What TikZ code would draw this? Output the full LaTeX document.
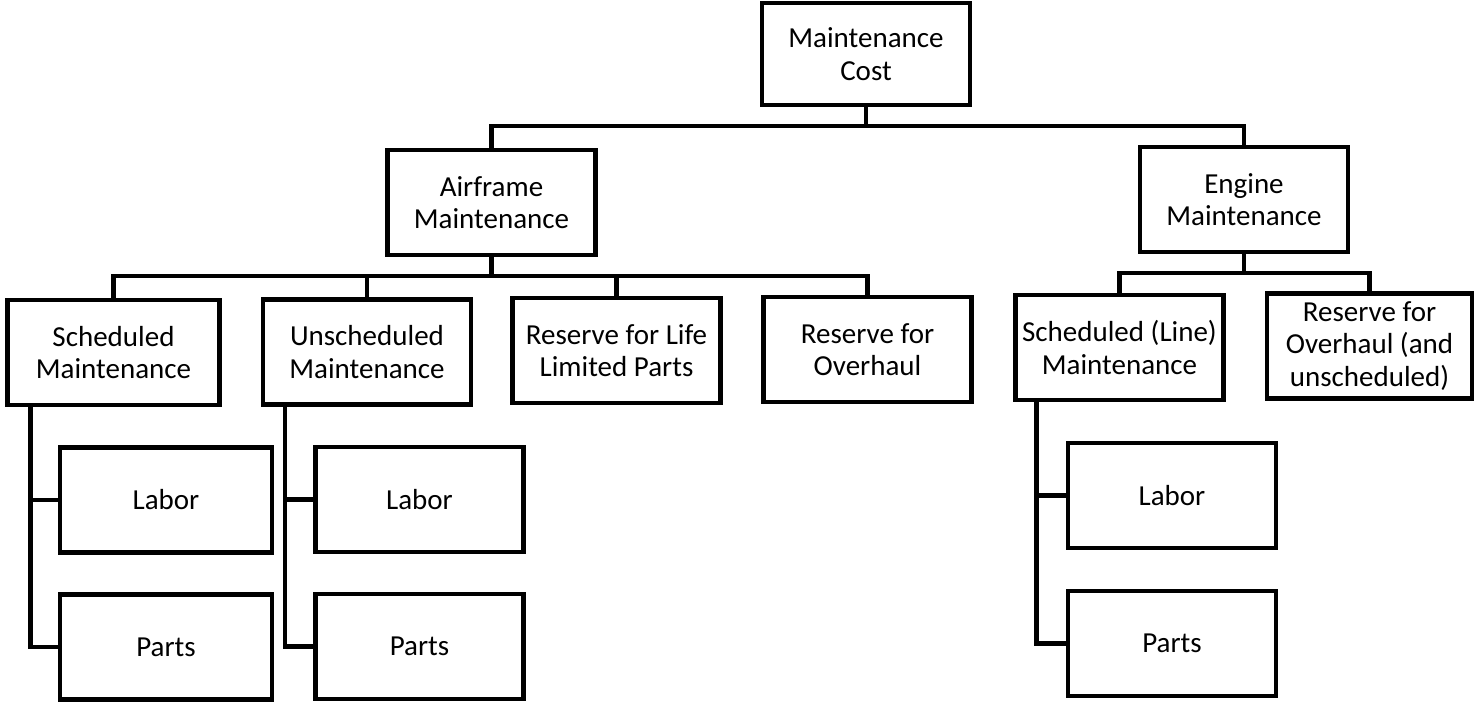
\documentclass[tikz,border=0pt]{standalone}
\usepackage{fontspec}
\setmainfont{Carlito}
\begin{document}
\begin{tikzpicture}[x=1pt,y=-1pt,
  every node/.style={inner sep=0pt,outer sep=0pt},
  box/.style={draw,line width=4.6pt,minimum width=208pt,minimum height=105pt,
    align=center,font=\fontsize{29}{32.5}\selectfont},
  link/.style={line width=4.5pt,line cap=rect,line join=miter}]
\useasboundingbox (0,0) rectangle (1475,703);

% level 0
\node[box,minimum height=102pt] (cost) at (866,54) {Maintenance\\Cost};

% level 1
\node[box] (air) at (491.5,202.5) {Airframe\\Maintenance};
\node[box] (eng) at (1244,199.5) {Engine\\Maintenance};

% level 2, airframe
\node[box,minimum width=212pt] (sch) at (113.5,352.5) {Scheduled\\Maintenance};
\node[box] (uns) at (367,352) {Unscheduled\\Maintenance};
\node[box] (llp) at (616.5,350.5) {Reserve for Life\\Limited Parts};
\node[box] (ovh) at (867.5,349.5) {Reserve for\\Overhaul};

% level 2, engine
\node[box] (line) at (1119.5,347.5) {Scheduled (Line)\\Maintenance};
\node[box,minimum width=205pt] (eovh) at (1369.5,346) {Reserve for\\Overhaul (and\\unscheduled)};

% level 3
\node[box,minimum width=212pt] (lab1) at (166,500) {Labor};
\node[box,minimum width=212pt] (par1) at (166,647) {Parts};
\node[box] (lab2) at (419.5,499.5) {Labor};
\node[box] (par2) at (419.5,646.5) {Parts};
\node[box] (lab3) at (1172,495.5) {Labor};
\node[box] (par3) at (1172,643.5) {Parts};

% bus lines
\coordinate (bus0) at (866,126);
\coordinate (busA) at (491.5,276);
\coordinate (busE) at (1244,273);

\draw[link] (cost.south) -- (bus0) -| (air.north);
\draw[link] (bus0) -| (eng.north);

\draw[link] (air.south) -- (busA) -| (sch.north);
\draw[link] (busA) -| (uns.north);
\draw[link] (busA) -| (llp.north);
\draw[link] (busA) -| (ovh.north);

\draw[link] (eng.south) -- (busE) -| (line.north);
\draw[link] (busE) -| (eovh.north);

% side branches
\coordinate (s1) at ([xshift=23pt]sch.south west);
\coordinate (s2) at ([xshift=22pt]uns.south west);
\coordinate (s3) at ([xshift=21pt]line.south west);

\draw[link] (s1) |- (par1.west);
\draw[link] (s1 |- lab1.west) -- (lab1.west);
\draw[link] (s2) |- (par2.west);
\draw[link] (s2 |- lab2.west) -- (lab2.west);
\draw[link] (s3) |- (par3.west);
\draw[link] (s3 |- lab3.west) -- (lab3.west);
\end{tikzpicture}
\end{document}
